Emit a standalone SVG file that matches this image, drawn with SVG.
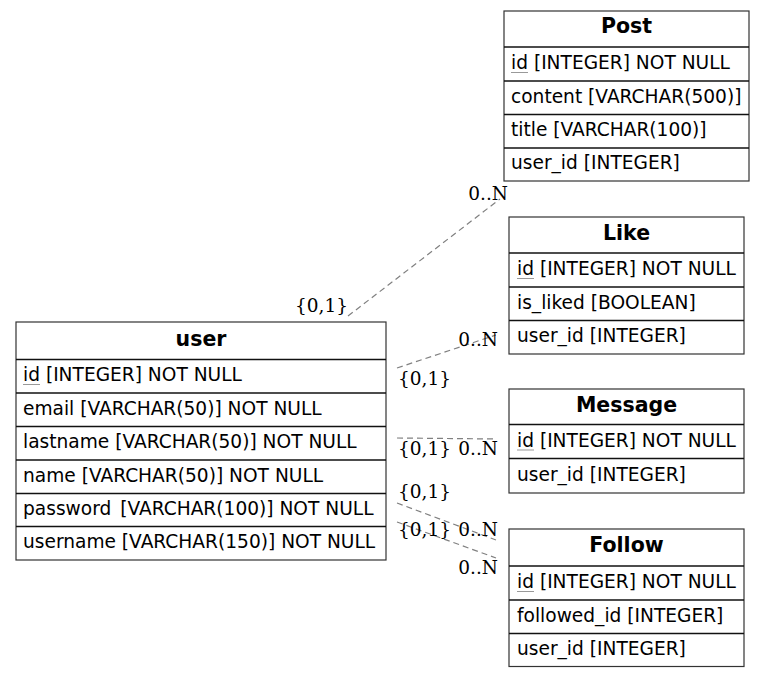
<svg xmlns="http://www.w3.org/2000/svg" width="765" height="677" viewBox="0 0 765 677">
  <style>
    .box { fill: #ffffff; stroke: #333333; stroke-width: 1.2; }
    .sep { stroke: #111111; stroke-width: 1.4; }
    .title { font-family: "DejaVu Sans", sans-serif; font-size: 20.5px; font-weight: bold; text-anchor: middle; fill: #000; }
    .col { font-family: "DejaVu Sans", sans-serif; font-size: 18.6px; fill: #000; }
    .pk { stroke: #999999; stroke-width: 1; }
    .rel { fill: none; stroke: #808080; stroke-width: 1.2; stroke-dasharray: 6,4; }
    .card { font-family: "DejaVu Serif", serif; font-size: 18.5px; fill: #000; }
    .many { text-anchor: end; }
  </style>

  <!-- relationship connectors -->
  <g id="connectors">
    <line class="rel" x1="348" y1="316" x2="500" y2="199"/>
    <line class="rel" x1="397" y1="368" x2="496" y2="335"/>
    <line class="rel" x1="397" y1="438" x2="496" y2="439"/>
    <line class="rel" x1="397" y1="503" x2="496" y2="540"/>
    <line class="rel" x1="397" y1="522" x2="496" y2="558"/>

    <text class="card" x="295" y="312">{0,1}</text>
    <text class="card many" x="508" y="200">0..N</text>

    <text class="card many" x="498" y="346">0..N</text>
    <text class="card" x="398" y="385">{0,1}</text>

    <text class="card" x="398" y="455">{0,1}</text>
    <text class="card many" x="498" y="455">0..N</text>

    <text class="card" x="398" y="498">{0,1}</text>
    <text class="card" x="398" y="536">{0,1}</text>
    <text class="card many" x="498" y="536">0..N</text>
    <text class="card many" x="498" y="574">0..N</text>
  </g>

  <!-- table: Post -->
  <g id="Post">
    <rect class="box" x="504" y="11" width="245" height="170"/>
    <line class="sep" x1="504" y1="47" x2="749" y2="47"/>
    <line class="sep" x1="504" y1="81" x2="749" y2="81"/>
    <line class="sep" x1="504" y1="114.5" x2="749" y2="114.5"/>
    <line class="sep" x1="504" y1="148" x2="749" y2="148"/>
    <text class="title" x="626.5" y="33">Post</text>
    <text class="col" x="511" y="69">id [INTEGER] NOT NULL</text>
    <line class="pk" x1="511" y1="72.5" x2="528" y2="72.5"/>
    <text class="col" x="511" y="102.5">content [VARCHAR(500)]</text>
    <text class="col" x="511" y="136">title [VARCHAR(100)]</text>
    <text class="col" x="511" y="169">user_id [INTEGER]</text>
  </g>

  <!-- table: Like -->
  <g id="Like">
    <rect class="box" x="509" y="217" width="235" height="137"/>
    <line class="sep" x1="509" y1="253" x2="744" y2="253"/>
    <line class="sep" x1="509" y1="287" x2="744" y2="287"/>
    <line class="sep" x1="509" y1="320.5" x2="744" y2="320.5"/>
    <text class="title" x="626.5" y="240">Like</text>
    <text class="col" x="517" y="275">id [INTEGER] NOT NULL</text>
    <line class="pk" x1="517" y1="278.5" x2="534" y2="278.5"/>
    <text class="col" x="517" y="308.5">is_liked [BOOLEAN]</text>
    <text class="col" x="517" y="342">user_id [INTEGER]</text>
  </g>

  <!-- table: Message -->
  <g id="Message">
    <rect class="box" x="509" y="389" width="235" height="104"/>
    <line class="sep" x1="509" y1="424.5" x2="744" y2="424.5"/>
    <line class="sep" x1="509" y1="458.5" x2="744" y2="458.5"/>
    <text class="title" x="626.5" y="412">Message</text>
    <text class="col" x="517" y="446.5">id [INTEGER] NOT NULL</text>
    <line class="pk" x1="517" y1="450" x2="534" y2="450"/>
    <text class="col" x="517" y="480.5">user_id [INTEGER]</text>
  </g>

  <!-- table: Follow -->
  <g id="Follow">
    <rect class="box" x="509" y="529" width="235" height="137.5"/>
    <line class="sep" x1="509" y1="566" x2="744" y2="566"/>
    <line class="sep" x1="509" y1="600" x2="744" y2="600"/>
    <line class="sep" x1="509" y1="633.5" x2="744" y2="633.5"/>
    <text class="title" x="626.5" y="552">Follow</text>
    <text class="col" x="517" y="588">id [INTEGER] NOT NULL</text>
    <line class="pk" x1="517" y1="591.5" x2="534" y2="591.5"/>
    <text class="col" x="517" y="621.5">followed_id [INTEGER]</text>
    <text class="col" x="517" y="655">user_id [INTEGER]</text>
  </g>

  <!-- table: user -->
  <g id="user">
    <rect class="box" x="16" y="322" width="370" height="238"/>
    <line class="sep" x1="16" y1="359.5" x2="386" y2="359.5"/>
    <line class="sep" x1="16" y1="393" x2="386" y2="393"/>
    <line class="sep" x1="16" y1="426.5" x2="386" y2="426.5"/>
    <line class="sep" x1="16" y1="460" x2="386" y2="460"/>
    <line class="sep" x1="16" y1="493.5" x2="386" y2="493.5"/>
    <line class="sep" x1="16" y1="526.5" x2="386" y2="526.5"/>
    <text class="title" x="201" y="346">user</text>
    <text class="col" x="23" y="381">id [INTEGER] NOT NULL</text>
    <line class="pk" x1="23" y1="384.5" x2="40" y2="384.5"/>
    <text class="col" x="23" y="414.5">email [VARCHAR(50)] NOT NULL</text>
    <text class="col" x="23" y="448">lastname [VARCHAR(50)] NOT NULL</text>
    <text class="col" x="23" y="481.5">name [VARCHAR(50)] NOT NULL</text>
    <text class="col" x="23" y="514.5">password<tspan dx="3"> [VARCHAR(100)] NOT NULL</tspan></text>
    <text class="col" x="23" y="548">username [VARCHAR(150)] NOT NULL</text>
  </g>
</svg>
